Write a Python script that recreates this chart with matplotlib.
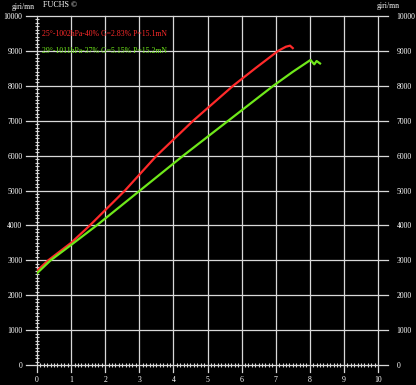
import matplotlib
matplotlib.use('Agg')
import matplotlib.pyplot as plt
import matplotlib.transforms as mtransforms
from matplotlib.ticker import MultipleLocator

W, H = 416, 385

# readings of the two curves (elongation vs giri/mn)
red_x = [0.0, 0.33, 1.0, 1.55, 2.58, 3.51, 4.58, 5.75, 6.4, 7.07, 7.3, 7.42, 7.5]
red_y = [2700, 3000, 3500, 4000, 5000, 6000, 7000, 8000, 8500, 9000, 9120, 9150, 9080]
green_x = [0.0, 0.4, 1.0, 1.75, 3.02, 4.29, 5.61, 6.93, 7.5, 8.02, 8.13, 8.2, 8.3]
green_y = [2630, 3000, 3440, 4000, 5000, 6000, 7000, 8000, 8400, 8740, 8615, 8710, 8640]

red_label = '25°-1002hPa-40% G=2.83% P=15.1mN'
green_label = '29°-1011hPa-37% G=5.15% P=15.2mN'
x_ticks = list(range(0, 11))
y_ticks = list(range(0, 10001, 1000))

RED = '#ff2a2a'
GREEN = '#6fe81a'
GRID = '#d8d8d8'
FONT = 'Liberation Serif'
FS = 5.6

fig = plt.figure(figsize=(W / 100, H / 100), dpi=100, facecolor='black')
ax = fig.add_axes([37 / W, 20 / H, 341 / W, 349 / H], facecolor='black')
ax.set_xlim(0, 10)
ax.set_ylim(0, 10000)

# grid lines extending a bit past the axes
bt = mtransforms.blended_transform_factory(ax.transAxes, ax.transData)
for y in y_ticks:
    ax.plot([-0.033, 1.03], [y, y], color=GRID, lw=0.9, transform=bt, clip_on=False, zorder=1)
vt = mtransforms.blended_transform_factory(ax.transData, ax.transAxes)
for x in x_ticks:
    ax.plot([x, x], [-0.02, 1.0], color=GRID, lw=0.9, transform=vt, clip_on=False, zorder=1)

ax.plot(red_x, red_y, color=RED, lw=1.6, zorder=3)
ax.plot(green_x, green_y, color=GREEN, lw=1.6, zorder=3)

for s in ax.spines.values():
    s.set_visible(False)

ax.xaxis.set_major_locator(MultipleLocator(1))
ax.xaxis.set_minor_locator(MultipleLocator(0.1))
ax.yaxis.set_major_locator(MultipleLocator(1000))
ax.yaxis.set_minor_locator(MultipleLocator(100))
ax.tick_params(axis='both', which='minor', direction='inout', length=3, width=0.8, color=GRID)
ax.tick_params(axis='both', which='major', length=0, labelcolor='white', labelsize=FS)
ax.tick_params(axis='y', which='minor', left=True, right=True)
ax.tick_params(axis='y', which='major', pad=10.5)
ax.tick_params(axis='x', which='major', pad=8)
ax.set_xticks(x_ticks)
ax.set_yticks(y_ticks)
for lab in ax.get_xticklabels() + ax.get_yticklabels():
    lab.set_fontfamily(FONT)

# right-hand scale
ax2 = ax.twinx()
ax2.set_ylim(ax.get_ylim())
ax2.patch.set_visible(False)
for s in ax2.spines.values():
    s.set_visible(False)
ax2.set_yticks(y_ticks)
ax2.yaxis.set_minor_locator(MultipleLocator(100))
ax2.tick_params(axis='y', which='major', length=0, pad=13.5, labelcolor='white', labelsize=FS)
ax2.tick_params(axis='y', which='minor', length=0)
for lab in ax2.get_yticklabels():
    lab.set_fontfamily(FONT)

def px(x, y):
    return x / W, 1 - y / H

fig.text(*px(12, 7), 'giri/mn', color='white', fontsize=5.6, family=FONT, va='center')
fig.text(*px(377, 6), 'giri/mn', color='white', fontsize=5.6, family=FONT, va='center')
fig.text(*px(43, 5), 'FUCHS ©', color='white', fontsize=5.8, family=FONT, va='center')
fig.text(*px(42, 34), red_label, color=RED, fontsize=5.6, family=FONT, va='center')
fig.text(*px(42, 51), green_label, color=GREEN, fontsize=5.6, family=FONT, va='center')

fig.savefig('out.png', dpi=100, facecolor='black')
